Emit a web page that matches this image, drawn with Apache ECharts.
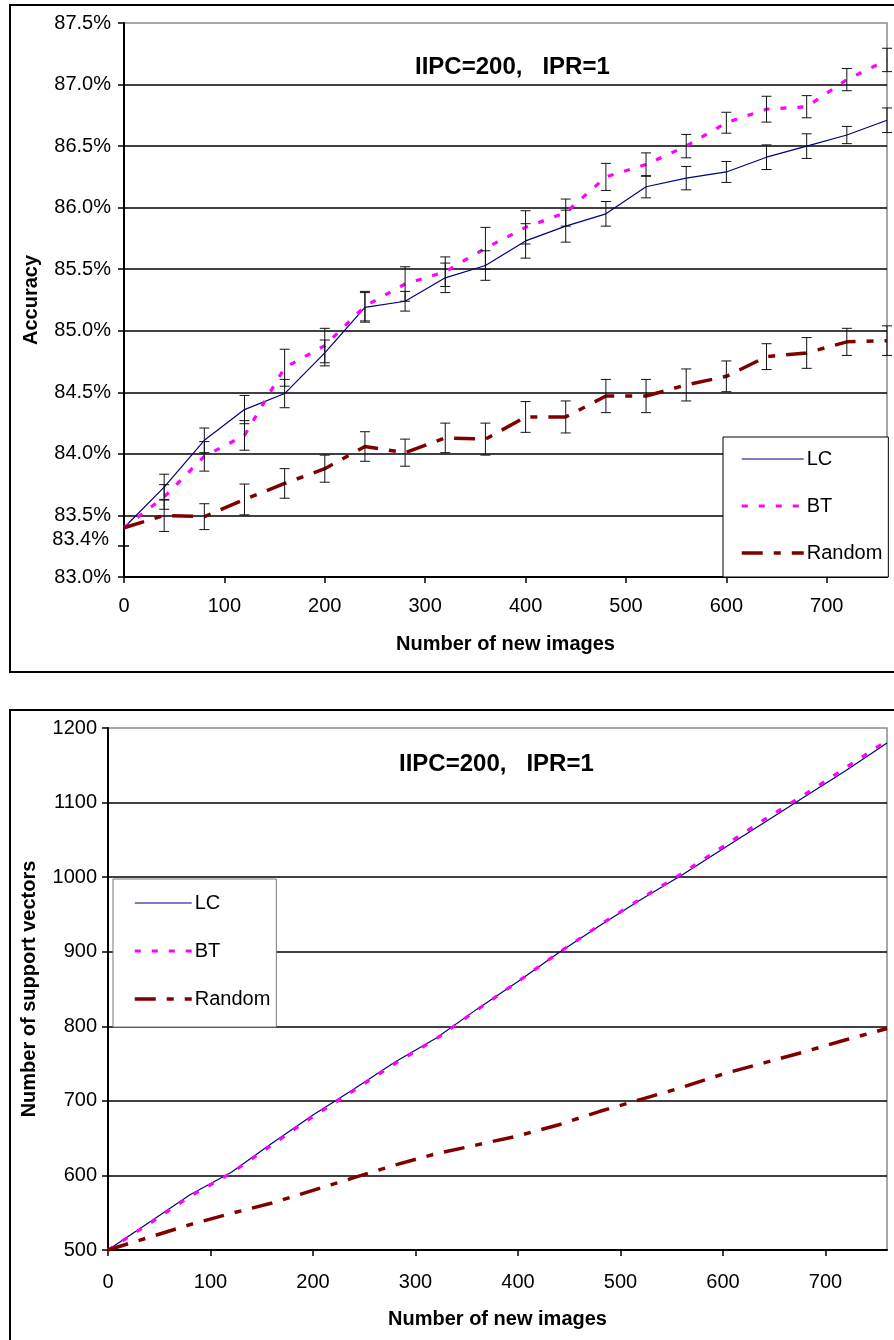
<!DOCTYPE html>
<html>
<head>
<meta charset="utf-8">
<script src="https://cdn.jsdelivr.net/npm/echarts@6/dist/echarts.min.js"></script>
<style>
html,body{margin:0;padding:0;background:#fff;}
#c{width:894px;height:1340px;}
</style>
</head>
<body>
<div id="c"></div>
<script>
// ---- data ----
const newImages = [0,40,80,120,160,200,240,280,320,360,400,440,480,520,560,600,640,680,720,760];
const accLC     = [83.40,83.73,84.11,84.36,84.49,84.82,85.19,85.24,85.43,85.53,85.73,85.85,85.95,86.17,86.24,86.29,86.41,86.50,86.59,86.71];
const accBT     = [83.40,83.65,83.98,84.15,84.70,84.88,85.20,85.38,85.48,85.67,85.84,85.96,86.25,86.35,86.50,86.69,86.80,86.82,87.04,87.20];
const accRandom = [83.40,83.50,83.49,83.63,83.76,83.88,84.06,84.01,84.13,84.12,84.30,84.30,84.47,84.47,84.56,84.63,84.79,84.82,84.91,84.92];
const errLC     = [0,0.105,0.10,0.115,0.115,0.105,0.12,0.08,0.12,0.12,0.14,0.13,0.10,0.09,0.095,0.085,0.10,0.10,0.07,0.10];
const errBT     = [0,0.10,0.12,0.12,0.15,0.14,0.12,0.14,0.12,0.17,0.135,0.11,0.11,0.095,0.095,0.085,0.105,0.09,0.09,0.095];
const errRandom = [0,0.13,0.105,0.125,0.12,0.11,0.12,0.11,0.12,0.13,0.125,0.13,0.135,0.135,0.13,0.125,0.105,0.125,0.11,0.12];
const svLC      = [500,537,574,604,643,681,716,752,784,823,860,899,935,970,1003,1038,1073,1108,1143,1180];
const svBT      = [500,535,572,603,641,679,714,750,783,822,860,899,936,971,1005,1041,1077,1111,1147,1183];
const svRandom  = [500,517,534,549,563,580,597,614,629,641,653,668,686,702,718,736,751,766,782,797];
const seriesNames = ['LC','BT','Random'];
const xTickValues = [0,100,200,300,400,500,600,700];
const chartTitle = 'IIPC=200,   IPR=1';
const extraYLabel = '83.4%';

// ---- helpers ----
const FONT = "'Liberation Sans', Arial, sans-serif";
const pairs = (xs, ys) => xs.map((x, i) => [x, ys[i]]);
const errData = (xs, ys, es) => xs.map((x, i) => [x, ys[i] - es[i], ys[i] + es[i], es[i]]);

function renderErr(params, api) {
  if (api.value(3) <= 0) return null;
  const x = api.value(0);
  const pLo = api.coord([x, api.value(1)]);
  const pHi = api.coord([x, api.value(2)]);
  const w = 5;
  const st = { stroke: '#111', lineWidth: 1 };
  return { type: 'group', children: [
    { type: 'line', shape: { x1: pLo[0], y1: pLo[1], x2: pHi[0], y2: pHi[1] }, style: st },
    { type: 'line', shape: { x1: pLo[0]-w, y1: pLo[1], x2: pLo[0]+w, y2: pLo[1] }, style: st },
    { type: 'line', shape: { x1: pHi[0]-w, y1: pHi[1], x2: pHi[0]+w, y2: pHi[1] }, style: st }
  ]};
}

const styles = {
  LC:     { color: '#000080', width: 1.2, type: 'solid' },
  BT:     { color: '#FF00FF', width: 3.2, type: [6, 11] },
  Random: { color: '#800000', width: 3.5, type: [21, 11, 7, 11] }
};
function lineSeries(name, data, idx) {
  const s = styles[name];
  return {
    type: 'line', name: name, data: data, xAxisIndex: idx, yAxisIndex: idx,
    symbol: 'none', showSymbol: false, smooth: false, z: 3,
    lineStyle: { color: s.color, width: s.width, type: s.type, cap: 'butt' },
    itemStyle: { color: s.color },
    emphasis: { disabled: true }
  };
}
function errSeries(name, data) {
  return { type: 'custom', name: name + ' err', data: data, xAxisIndex: 0, yAxisIndex: 0,
    renderItem: renderErr, z: 4, silent: true, clip: false };
}

const axisText = { color: '#000', fontFamily: FONT, fontSize: 20 };
function xAxis(idx, margin, nameGap) {
  return {
    type: 'value', gridIndex: idx, min: 0, max: 760, interval: 100,
    name: 'Number of new images', nameLocation: 'middle', nameGap: nameGap,
    nameTextStyle: { color: '#000', fontFamily: FONT, fontSize: 20, fontWeight: 'bold' },
    axisLine: { show: true, onZero: false, lineStyle: { color: '#000', width: 2 } },
    axisTick: { show: true, inside: false, length: 6, lineStyle: { color: '#000', width: 1.5 }, customValues: xTickValues },
    axisLabel: Object.assign({ margin: margin, customValues: xTickValues,
      formatter: v => (v % 100 === 0 ? String(v) : '') }, axisText),
    splitLine: { show: false }
  };
}
const legendItems = seriesNames.map(n => ({
  name: n,
  lineStyle: { width: styles[n].width, type: styles[n].type, color: styles[n].color, cap: 'butt' }
}));
const legendCommon = {
  orient: 'vertical', backgroundColor: '#fff', selectedMode: false,
  lineStyle: { width: 'inherit', type: 'inherit', color: 'inherit' },
  itemStyle: { opacity: 0, color: 'rgba(0,0,0,0)', borderWidth: 0 },
  textStyle: { color: '#000', fontFamily: FONT, fontSize: 20, padding: [0,0,0,-2] }
};

const option = {
  animation: false,
  backgroundColor: '#fff',
  grid: [
    { left: 124, right: 7, top: 23, bottom: 1340 - 577, show: true, borderColor: '#8a8a8a', borderWidth: 1.5, backgroundColor: 'transparent' },
    { left: 108, right: 7, top: 728, bottom: 1340 - 1250, show: true, borderColor: '#8a8a8a', borderWidth: 1.5, backgroundColor: 'transparent' }
  ],
  title: [
    { text: chartTitle, left: 410, top: 50, textStyle: { color: '#000', fontFamily: FONT, fontSize: 24, fontWeight: 'bold' } },
    { text: chartTitle, left: 394, top: 747, textStyle: { color: '#000', fontFamily: FONT, fontSize: 24, fontWeight: 'bold' } }
  ],
  legend: [
    Object.assign({}, legendCommon, { data: legendItems, left: 723, top: 437,
      padding: [12, 6, 14, 17], itemWidth: 62, itemHeight: 14, itemGap: 27,
      borderColor: '#000', borderWidth: 1 }),
    Object.assign({}, legendCommon, { data: legendItems, left: 113, top: 879,
      padding: [14, 6, 18, 20], itemWidth: 57, itemHeight: 14, itemGap: 28,
      borderColor: '#777', borderWidth: 1 })
  ],
  xAxis: [ xAxis(0, 19, 57), xAxis(1, 22, 59) ],
  yAxis: [
    { type: 'value', gridIndex: 0, min: 83, max: 87.5, interval: 0.5,
      name: 'Accuracy', nameLocation: 'middle', nameGap: 83,
      nameTextStyle: { color: '#000', fontFamily: FONT, fontSize: 20, fontWeight: 'bold' },
      axisLine: { show: true, lineStyle: { color: '#000', width: 2 } },
      axisTick: { show: true, length: 6, lineStyle: { color: '#000', width: 1.5 } },
      axisLabel: Object.assign({ margin: 13, formatter: v => v.toFixed(1) + '%' }, axisText),
      splitLine: { show: true, showMinLine: false, showMaxLine: false, lineStyle: { color: '#000', width: 1.6 } } },
    { type: 'value', gridIndex: 1, min: 500, max: 1200, interval: 100,
      name: 'Number of support vectors', nameLocation: 'middle', nameGap: 69,
      nameTextStyle: { color: '#000', fontFamily: FONT, fontSize: 20, fontWeight: 'bold' },
      axisLine: { show: true, lineStyle: { color: '#000', width: 2 } },
      axisTick: { show: true, length: 6, lineStyle: { color: '#000', width: 1.5 } },
      axisLabel: Object.assign({ margin: 11, formatter: v => String(v) }, axisText),
      splitLine: { show: true, showMinLine: false, showMaxLine: false, lineStyle: { color: '#000', width: 1.6 } } }
  ],
  graphic: [
    { type: 'rect', shape: { x: 10, y: 5, width: 900, height: 667 }, style: { fill: 'none', stroke: '#000', lineWidth: 2 }, z: 0, silent: true },
    { type: 'rect', shape: { x: 10, y: 710, width: 900, height: 700 }, style: { fill: 'none', stroke: '#000', lineWidth: 2 }, z: 0, silent: true },
    { type: 'text', x: 109, y: 539, style: { text: extraYLabel, fill: '#000', font: '20px ' + FONT, textAlign: 'right', textVerticalAlign: 'middle' }, z: 10, silent: true },
    { type: 'line', shape: { x1: 118, y1: 546, x2: 129, y2: 546 }, style: { stroke: '#000', lineWidth: 1.5 }, z: 10, silent: true }
  ],
  series: [
    errSeries('LC', errData(newImages, accLC, errLC)),
    errSeries('BT', errData(newImages, accBT, errBT)),
    errSeries('Random', errData(newImages, accRandom, errRandom)),
    lineSeries('LC', pairs(newImages, accLC), 0),
    lineSeries('BT', pairs(newImages, accBT), 0),
    lineSeries('Random', pairs(newImages, accRandom), 0),
    lineSeries('LC', pairs(newImages, svLC), 1),
    lineSeries('BT', pairs(newImages, svBT), 1),
    lineSeries('Random', pairs(newImages, svRandom), 1)
  ]
};

const chart = echarts.init(document.getElementById('c'), null, { renderer: 'canvas', width: 894, height: 1340 });
chart.setOption(option);
</script>
</body>
</html>
